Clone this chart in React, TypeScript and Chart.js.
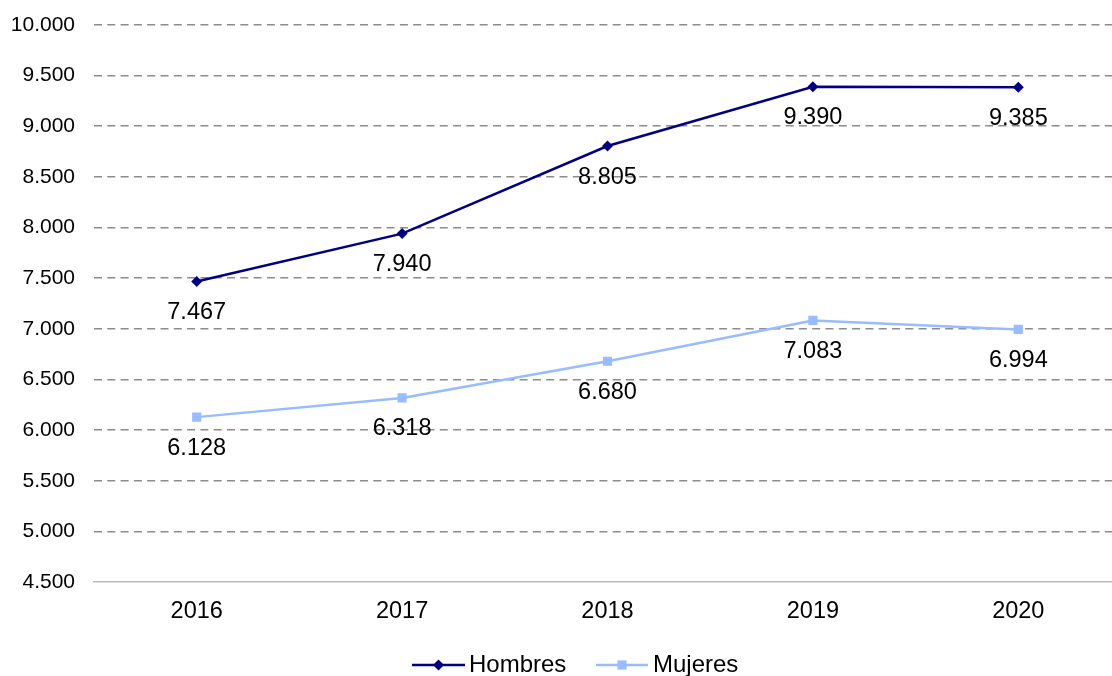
import React, { useEffect, useRef } from "react";
import { Chart, registerables } from "chart.js";

Chart.register(...registerables);

const years = ["2016", "2017", "2018", "2019", "2020"];
const hombres = [7467, 7940, 8805, 9390, 9385];
const mujeres = [6128, 6318, 6680, 7083, 6994];
const yMin = 4500;
const yMax = 10000;
const yStep = 500;

const FONT = "'Liberation Sans', Arial, Helvetica, sans-serif";
const NAVY = "#000080";
const LIGHT = "#99BBFF";

function fmt(v: number): string {
  const s = Math.round(v).toString();
  return s.replace(/\B(?=(\d{3})+(?!\d))/g, ".");
}

const dataLabels = {
  id: "dataLabels",
  afterDatasetsDraw(chart: any) {
    const ctx = chart.ctx;
    ctx.save();
    ctx.font = `23.5px ${FONT}`;
    ctx.fillStyle = "#000";
    ctx.textAlign = "center";
    ctx.textBaseline = "middle";
    chart.data.datasets.forEach((ds: any, i: number) => {
      const meta = chart.getDatasetMeta(i);
      meta.data.forEach((pt: any, j: number) => {
        ctx.fillText(fmt(ds.data[j]), pt.x, pt.y + 31);
      });
    });
    ctx.restore();
  },
};

const customLegend = {
  id: "customLegend",
  afterDraw(chart: any) {
    const ctx = chart.ctx;
    const y = 665;
    const items = [
      { label: "Hombres", color: NAVY, x0: 412, x1: 465, style: "rectRot", r: 5.5, tx: 469 },
      { label: "Mujeres", color: LIGHT, x0: 596, x1: 648, style: "rect", r: 6.5, tx: 653 },
    ];
    ctx.save();
    items.forEach((it) => {
      ctx.strokeStyle = it.color;
      ctx.lineWidth = 2.5;
      ctx.beginPath();
      ctx.moveTo(it.x0, y);
      ctx.lineTo(it.x1, y);
      ctx.stroke();
      ctx.fillStyle = it.color;
      const xm = (it.x0 + it.x1) / 2;
      const s = it.r * Math.SQRT1_2;
      ctx.beginPath();
      if (it.style === "rectRot") {
        ctx.moveTo(xm, y - it.r);
        ctx.lineTo(xm + it.r, y);
        ctx.lineTo(xm, y + it.r);
        ctx.lineTo(xm - it.r, y);
        ctx.closePath();
      } else {
        ctx.rect(xm - s, y - s, 2 * s, 2 * s);
      }
      ctx.fill();
      ctx.fillStyle = "#000";
      ctx.font = `24px ${FONT}`;
      ctx.textAlign = "left";
      ctx.textBaseline = "middle";
      ctx.fillText(it.label, it.tx, y);
    });
    ctx.restore();
  },
};

export default function App() {
  const ref = useRef<HTMLCanvasElement>(null);

  useEffect(() => {
    if (!ref.current) return;
    const chart = new Chart(ref.current, {
      type: "line",
      data: {
        labels: years,
        datasets: [
          {
            label: "Hombres",
            data: hombres,
            borderColor: NAVY,
            backgroundColor: NAVY,
            borderWidth: 2.5,
            pointStyle: "rectRot",
            pointRadius: 5.5,
            pointBorderWidth: 0,
            tension: 0,
          },
          {
            label: "Mujeres",
            data: mujeres,
            borderColor: LIGHT,
            backgroundColor: LIGHT,
            borderWidth: 2.5,
            pointStyle: "rect",
            pointRadius: 6.5,
            pointBorderWidth: 0,
            tension: 0,
          },
        ],
      },
      options: {
        responsive: false,
        animation: false,
        devicePixelRatio: 1,
        layout: { autoPadding: false, padding: { top: 25, bottom: 44, left: 0, right: 0 } },
        plugins: {
          legend: { display: false },
          tooltip: { enabled: false },
        },
        scales: {
          x: {
            offset: true,
            grid: { display: false, drawTicks: false },
            border: { display: true, color: "#bbbbbb", width: 1.5 },
            ticks: {
              color: "#000",
              font: { family: FONT, size: 23.5 },
              padding: 15,
            },
            afterFit(scale: any) {
              scale.height = 50;
              scale.paddingLeft = 0;
              scale.paddingRight = 0;
            },
          },
          y: {
            min: yMin,
            max: yMax,
            grid: {
              drawTicks: false,
              color: (c: any) => (c.tick && c.tick.value === yMin ? "rgba(0,0,0,0)" : "#8c8c8c"),
              lineWidth: 1.6,
            },
            border: { display: false, dash: [8, 5.3] },
            ticks: {
              stepSize: yStep,
              color: "#000",
              font: { family: FONT, size: 21 },
              padding: 19,
              callback: (v: any) => fmt(Number(v)),
            },
            afterFit(scale: any) {
              scale.width = 94;
              scale.paddingTop = 0;
              scale.paddingBottom = 0;
            },
          },
        },
      },
      plugins: [dataLabels, customLegend],
    });
    return () => chart.destroy();
  }, []);

  return (
    <div
      style={{
        position: "fixed",
        left: 0,
        top: 0,
        width: 1112,
        height: 676,
        overflow: "hidden",
        background: "#fff",
      }}
    >
      <canvas ref={ref} width={1121} height={676} style={{ width: 1121, height: 676, display: "block" }} />
    </div>
  );
}
